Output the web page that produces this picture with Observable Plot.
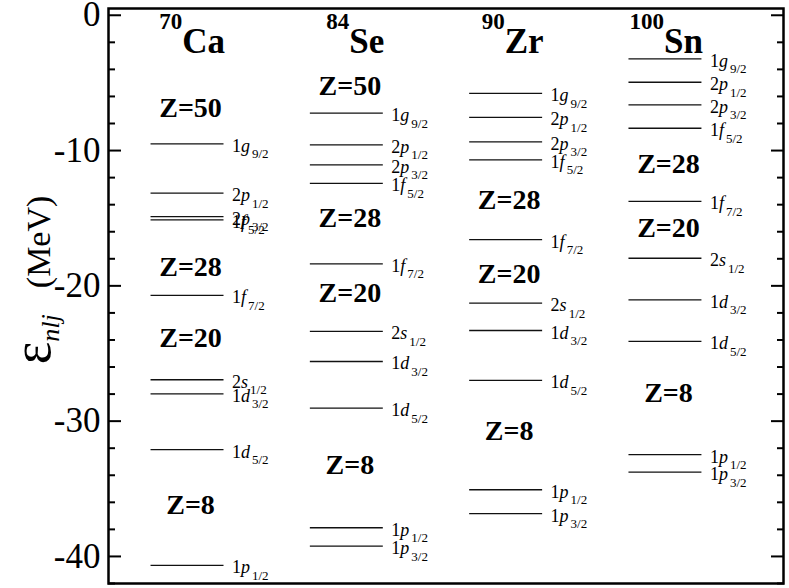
<!DOCTYPE html>
<html><head><meta charset="utf-8">
<script src="https://cdn.jsdelivr.net/npm/d3@7"></script>
<script src="https://cdn.jsdelivr.net/npm/@observablehq/plot@0.6"></script>
<style>
html,body{margin:0;padding:0;background:#fff;}
svg, svg text { font-family: "Liberation Serif", "Times New Roman", serif !important; }
</style></head><body><div id="chart"></div>
<script>
// ---- data ----
const nuclei = ["Ca", "Se", "Zr", "Sn"];
const massNumbers = [70, 84, 90, 100];
const orbitals = ["1g9/2", "2p1/2", "2p3/2", "1f5/2", "1f7/2", "2s1/2", "1d3/2", "1d5/2", "1p1/2", "1p3/2"];
const energiesCa = [-9.50, -13.15, -14.88, -15.12, -20.71, -26.94, -27.98, -32.11, -40.66, null];
const energiesSe = [-7.24, -9.58, -11.06, -12.42, -18.37, -23.37, -25.59, -29.04, -37.88, -39.24];
const energiesZr = [-5.77, -7.54, -9.36, -10.69, -16.58, -21.28, -23.30, -26.99, -35.07, -36.84];
const energiesSn = [-3.22, -4.95, -6.62, -8.35, -13.75, -17.96, -21.03, -24.11, -32.48, -33.77];
const magicNumbers = [50, 28, 20, 8];
const magicYCa = [-6.83, -18.64, -23.89, -36.23];
const magicYSe = [-5.20, -15.02, -20.56, -33.27];
const magicYZr = [null, -13.62, -19.09, -30.76];
const magicYSn = [null, -10.96, -15.76, -27.95];
const majorTicks = [0, -10, -20, -30, -40];
const minorTicks = [-2, -4, -6, -8, -12, -14, -16, -18, -22, -24, -26, -28, -32, -34, -36, -38, -42];
const yLabel = ["ε", "nlj", "(MeV)"];

// ---- tables ----
const energyTable = [energiesCa, energiesSe, energiesZr, energiesSn];
const magicTable = [magicYCa, magicYSe, magicYZr, magicYSn];
const levels = [];
energyTable.forEach((arr, i) => arr.forEach((e, j) => {
  if (e != null) levels.push({col: i + 1, e, orb: orbitals[j]});
}));
const magic = [];
magicTable.forEach((arr, i) => arr.forEach((y, j) => {
  if (y != null) magic.push({col: i + 1, y, z: magicNumbers[j]});
}));
const nucTable = nuclei.map((s, i) => ({col: i + 1, text: massNumbers[i] + "|" + s}));
const half = 0.229;
const serif = "Liberation Serif";

const svg = Plot.plot({
  width: 789, height: 588,
  marginLeft: 108, marginRight: 6, marginTop: 8, marginBottom: 5,
  style: "font-family: 'Liberation Serif', serif; font-size: 18px; color: black; background: white;",
  x: {domain: [0.504, 4.741], axis: null},
  y: {domain: [-42, 0.5]},
  marks: [
    Plot.ruleY(levels, {y: "e", x1: d => d.col - half, x2: d => d.col + half, stroke: "#111", strokeWidth: 1.3}),
    Plot.text(levels, {x: d => d.col + half, y: "e", text: "orb", textAnchor: "start", lineAnchor: "bottom", dx: 8, dy: 8, fontSize: 18, fontFamily: serif, className: "orb"}),
    Plot.text(magic, {x: "col", y: "y", text: d => "Z=" + d.z, lineAnchor: "bottom", dy: 9, dx: 3, fontSize: 28, fontWeight: "bold", fontFamily: serif}),
    Plot.text(nucTable, {x: d => d.col + half, frameAnchor: "top", text: "text", textAnchor: "end", lineAnchor: "bottom", dy: 44, dx: 1, fontWeight: "bold", fontSize: 35, fontFamily: serif, className: "nuc"}),
    Plot.text([yLabel.join("|")], {frameAnchor: "left", text: d => d, rotate: -90, textAnchor: "middle", lineAnchor: "bottom", dx: -59, dy: -16, fontSize: 34, fontFamily: serif, className: "ylab"}),
    Plot.axisY({anchor: "left", ticks: majorTicks, tickSize: 0, tickPadding: 8, fontSize: 35, fontFamily: serif, tickFormat: d => String(d), label: null}),
    Plot.axisY({anchor: "left", ticks: majorTicks, tickSize: -13, text: null, strokeWidth: 2, label: null}),
    Plot.axisY({anchor: "left", ticks: minorTicks, tickSize: -7, text: null, strokeWidth: 2, label: null}),
    Plot.axisY({anchor: "right", ticks: majorTicks, tickSize: -13, text: null, strokeWidth: 2, label: null}),
    Plot.axisY({anchor: "right", ticks: minorTicks, tickSize: -7, text: null, strokeWidth: 2, label: null}),
    Plot.frame({stroke: "black", strokeWidth: 2.5})
  ]
});

const root = d3.select(svg);
root.selectAll("g.orb text").each(function() {
  const s = this.textContent;
  const t = d3.select(this);
  t.text(null);
  t.append("tspan").text(s[0]);
  t.append("tspan").attr("font-style", "italic").text(s[1]);
  t.append("tspan").attr("font-size", 13).attr("dx", 2).attr("dy", 6.5).text(s.slice(2));
});
root.selectAll("g.nuc text").each(function() {
  const [m, sym] = this.textContent.split("|");
  const t = d3.select(this);
  t.text(null);
  t.append("tspan").attr("font-size", 23).attr("dy", -24).text(m);
  t.append("tspan").attr("font-size", 35).attr("dy", 24).text(sym);
});
root.selectAll("g.ylab text").each(function() {
  const [eps, sub, unit] = this.textContent.split("|");
  const t = d3.select(this);
  t.text(null);
  t.append("tspan").attr("font-size", 54).text(eps);
  t.append("tspan").attr("font-size", 26).attr("font-style", "italic").attr("dy", 9).text(sub);
  t.append("tspan").attr("font-size", 34).attr("dx", 26).attr("dy", -9).text(unit);
});
document.getElementById("chart").appendChild(svg);
</script>
</body></html>
